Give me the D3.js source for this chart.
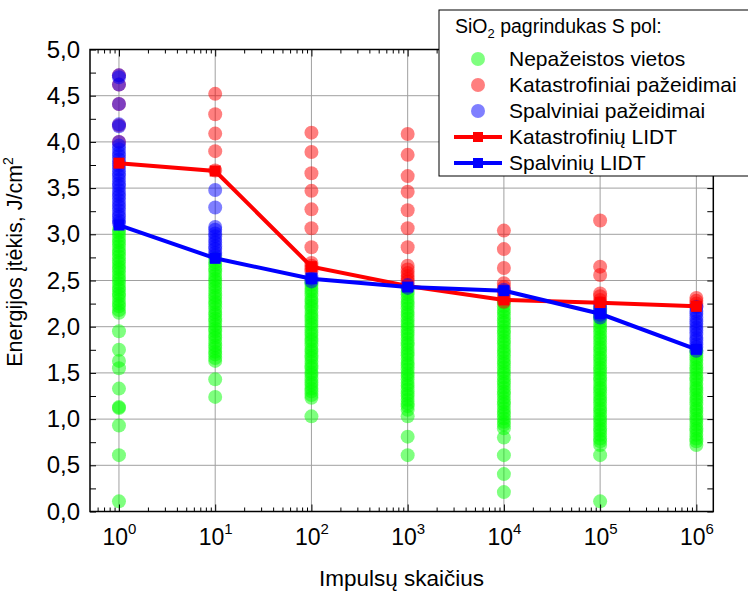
<html>
<script src="https://d3js.org/d3.v7.min.js"></script>
<style>
	body { margin: 0; background: #fff; }
	text { font-family: "Liberation Sans", Arial, sans-serif; }
</style>

<body>
	<svg width=748 height=592></svg>
	<script>
		// pulse counts (x) and LIDT curves
		const pulses = [1, 10, 100, 1000, 10000, 100000, 1000000];
		const lidtKatastrof = [3.77, 3.685, 2.65, 2.44, 2.29, 2.26, 2.22];
		const lidtSpalv = [3.10, 2.74, 2.52, 2.43, 2.39, 2.14, 1.755];

		// measured sites, one list per pulse count
		const nepazeistos = [
			[0.11, 0.61, 0.93, 1.12, 1.13, 1.33, 1.55, 1.63, 1.75, 1.95, 2.15, 2.18, 2.22, 2.25, 2.29, 2.33, 2.36, 2.40, 2.43, 2.47, 2.51, 2.54, 2.58, 2.62, 2.65, 2.69, 2.72, 2.76, 2.80, 2.83, 2.87, 2.91, 2.94, 2.98, 3.02, 3.05],
			[1.24, 1.43, 1.63, 1.66, 1.70, 1.73, 1.77, 1.80, 1.84, 1.88, 1.91, 1.95, 1.98, 2.02, 2.06, 2.09, 2.13, 2.16, 2.20, 2.24, 2.27, 2.31, 2.34, 2.38, 2.42, 2.45, 2.49, 2.52, 2.56, 2.60, 2.63, 2.67, 2.70, 2.74],
			[1.03, 1.23, 1.26, 1.30, 1.33, 1.37, 1.40, 1.44, 1.48, 1.51, 1.55, 1.58, 1.62, 1.66, 1.69, 1.73, 1.76, 1.80, 1.84, 1.87, 1.91, 1.94, 1.98, 2.02, 2.05, 2.09, 2.12, 2.16, 2.20, 2.23, 2.27, 2.30, 2.34, 2.38, 2.41, 2.45, 2.48],
			[0.61, 0.81, 1.03, 1.10, 1.14, 1.17, 1.21, 1.25, 1.28, 1.32, 1.36, 1.39, 1.43, 1.47, 1.50, 1.54, 1.58, 1.61, 1.65, 1.69, 1.72, 1.76, 1.80, 1.83, 1.87, 1.91, 1.94, 1.98, 2.02, 2.05, 2.09, 2.13, 2.16, 2.20, 2.24, 2.27, 2.31, 2.35, 2.38, 2.42],
			[0.21, 0.405, 0.61, 0.80, 0.90, 0.94, 0.97, 1.01, 1.05, 1.08, 1.12, 1.16, 1.19, 1.23, 1.27, 1.30, 1.34, 1.38, 1.41, 1.45, 1.49, 1.52, 1.56, 1.60, 1.63, 1.67, 1.71, 1.74, 1.78, 1.82, 1.85, 1.89, 1.93, 1.96, 2.00, 2.04, 2.07, 2.11, 2.15, 2.18, 2.22, 2.26, 2.29],
			[0.11, 0.61, 0.72, 0.76, 0.79, 0.83, 0.87, 0.90, 0.94, 0.98, 1.01, 1.05, 1.09, 1.12, 1.16, 1.20, 1.23, 1.27, 1.31, 1.34, 1.38, 1.42, 1.45, 1.49, 1.53, 1.56, 1.60, 1.64, 1.67, 1.71, 1.75, 1.78, 1.82, 1.86, 1.89, 1.93, 1.97, 2.00, 2.04, 2.08, 2.11, 2.15, 2.19],
			[0.72, 0.76, 0.79, 0.83, 0.87, 0.90, 0.94, 0.98, 1.01, 1.05, 1.09, 1.12, 1.16, 1.20, 1.23, 1.27, 1.31, 1.34, 1.38, 1.42, 1.45, 1.49, 1.53, 1.56, 1.60, 1.64, 1.67, 1.71, 1.74]
		];
		const katastrofiniai = [
			[4.00, 4.18, 4.41, 4.62, 4.72],
			[3.69, 3.90, 4.09, 4.30, 4.52],
			[2.60, 2.63, 2.66, 2.69, 2.86, 3.065, 3.27, 3.47, 3.66, 3.89, 4.10],
			[2.49, 2.52, 2.55, 2.58, 2.62, 2.66, 2.86, 3.065, 3.26, 3.46, 3.63, 3.86, 4.085],
			[2.27, 2.31, 2.35, 2.39, 2.43, 2.47, 2.635, 2.84, 3.04],
			[2.26, 2.29, 2.33, 2.36, 2.56, 2.65, 3.15],
			[2.22, 2.25, 2.28, 2.31]
		];
		const spalviniai = [
			[3.12, 3.15, 3.19, 3.22, 3.26, 3.30, 3.33, 3.37, 3.41, 3.44, 3.48, 3.52, 3.55, 3.59, 3.63, 3.66, 3.70, 3.74, 3.77, 3.81, 3.85, 3.88, 3.92, 3.96, 4.00, 4.17, 4.19, 4.41, 4.62, 4.70, 4.72],
			[2.77, 2.80, 2.84, 2.87, 2.91, 2.94, 2.98, 3.01, 3.05, 3.08, 3.29, 3.48],
			[2.49, 2.52, 2.55],
			[2.42, 2.45],
			[2.40],
			[2.10, 2.13, 2.17, 2.20, 2.24],
			[1.74, 1.78, 1.81, 1.85, 1.88, 1.92, 1.96, 1.99, 2.03, 2.06, 2.10, 2.14, 2.17, 2.21]
		];
		const yTicks = [0, 0.5, 1, 1.5, 2, 2.5, 3, 3.5, 4, 4.5, 5];

		const svg = d3.select("svg");
		const x = d3.scaleLog().domain([0.5, 1.5e6]).range([90, 713.3]);
		const y = d3.scaleLinear().domain([0, 5]).range([511.5, 49.5]);
		const font = '"Liberation Sans", Arial, sans-serif';

		// grid
		const grid = svg.append("g").attr("stroke", "#a0a0a0").attr("stroke-width", 1);
		grid.selectAll(".gx").data(pulses).join("line")
			.attr("x1", d => x(d)).attr("x2", d => x(d))
			.attr("y1", y(0)).attr("y2", y(5));
		grid.selectAll(".gy").data(yTicks.slice(1, -1)).join("line")
			.attr("x1", x(0.5)).attr("x2", x(1.5e6))
			.attr("y1", d => y(d)).attr("y2", d => y(d));

		// scatter points
		function flat(arr) {
			return arr.flatMap((col, i) => col.map(v => ({ p: pulses[i], v: v })));
		}
		[[nepazeistos, "rgba(0,255,0,0.5)"], [katastrofiniai, "rgba(255,0,0,0.5)"], [spalviniai, "rgba(0,0,255,0.5)"]]
			.forEach(([arr, col]) => {
				svg.append("g").selectAll("circle").data(flat(arr)).join("circle")
					.attr("cx", d => x(d.p)).attr("cy", d => y(d.v)).attr("r", 7)
					.attr("fill", col);
			});

		// LIDT lines
		const line = d3.line().x(d => x(d.p)).y(d => y(d.v));
		[[lidtKatastrof, "#ff0000"], [lidtSpalv, "#0000ff"]].forEach(([vals, col]) => {
			const pts = vals.map((v, i) => ({ p: pulses[i], v: v }));
			svg.append("path").datum(pts).attr("d", line)
				.attr("fill", "none").attr("stroke", col).attr("stroke-width", 4);
			svg.append("g").selectAll("rect").data(pts).join("rect")
				.attr("x", d => x(d.p) - 5.5).attr("y", d => y(d.v) - 5.5)
				.attr("width", 11).attr("height", 11).attr("fill", col);
		});

		// axes
		const yMinor = d3.range(0, 5.001, 0.25);
		const fmt = d => (Math.abs(d * 2 - Math.round(d * 2)) < 1e-9) ? d.toFixed(1).replace(".", ",") : "";
		const xMinor = d3.range(-1, 7).flatMap(e => d3.range(2, 10).map(k => k * Math.pow(10, e)))
			.filter(v => v > 0.5 && v < 1.5e6);

		svg.append("g").attr("transform", "translate(90,0)")
			.call(d3.axisLeft(y).tickValues(yMinor).tickSizeInner(-6).tickSizeOuter(0).tickPadding(10).tickFormat(fmt))
			.call(g => g.select(".domain").remove())
			.attr("font-size", 24).attr("font-family", font);
		svg.append("g").attr("transform", "translate(713.3,0)")
			.call(d3.axisRight(y).tickValues(yMinor).tickSizeInner(-6).tickSizeOuter(0).tickFormat(""))
			.call(g => g.select(".domain").remove());

		svg.append("g").attr("transform", "translate(0,511.5)")
			.call(d3.axisBottom(x).tickValues(xMinor).tickSizeInner(-4).tickSizeOuter(0).tickFormat(""))
			.call(g => g.select(".domain").remove());
		svg.append("g").attr("transform", "translate(0,49.5)")
			.call(d3.axisTop(x).tickValues(xMinor).tickSizeInner(-4).tickSizeOuter(0).tickFormat(""))
			.call(g => g.select(".domain").remove());
		svg.append("g").attr("transform", "translate(0,49.5)")
			.call(d3.axisTop(x).tickValues(pulses).tickSizeInner(-7).tickSizeOuter(0).tickFormat(""))
			.call(g => g.select(".domain").remove());
		svg.append("g").attr("transform", "translate(0,511.5)")
			.call(d3.axisBottom(x).tickValues(pulses).tickSizeInner(-7).tickSizeOuter(0))
			.call(g => g.select(".domain").remove())
			.attr("font-size", 23).attr("font-family", font)
			.selectAll(".tick text").each(function (d) {
				const t = d3.select(this).text("10").attr("y", 33.5).attr("dy", 0);
				t.append("tspan").attr("dy", -11).attr("font-size", 15).text(Math.round(Math.log10(d)));
			});

		// frame
		svg.append("rect").attr("x", 90).attr("y", 49.5)
			.attr("width", 713.3 - 90).attr("height", 511.5 - 49.5)
			.attr("fill", "none").attr("stroke", "black").attr("stroke-width", 1.5);

		// axis titles
		svg.append("text").attr("x", 401.6).attr("y", 586).attr("text-anchor", "middle")
			.attr("font-size", 22.5).text("Impulsų skaičius");
		const yt = svg.append("text").attr("transform", "translate(22,262) rotate(-90)")
			.attr("text-anchor", "middle").attr("font-size", 21.5).text("Energijos įtėkis, J/cm");
		yt.append("tspan").attr("dy", -9).attr("font-size", 14).text("2");

		// legend
		const leg = svg.append("g");
		leg.append("rect").attr("x", 439).attr("y", 10).attr("width", 330).attr("height", 166)
			.attr("fill", "white").attr("stroke", "black").attr("stroke-width", 1);
		const lt = leg.append("text").attr("x", 455).attr("y", 33).attr("font-size", 19.5).text("SiO");
		lt.append("tspan").attr("dy", 5).attr("font-size", 13).text("2");
		lt.append("tspan").attr("dy", -5).text(" pagrindukas S pol:");

		const legItems = [
			{ name: "Nepažeistos vietos", type: "dot", col: "rgba(0,255,0,0.5)" },
			{ name: "Katastrofiniai pažeidimai", type: "dot", col: "rgba(255,0,0,0.5)" },
			{ name: "Spalviniai pažeidimai", type: "dot", col: "rgba(0,0,255,0.5)" },
			{ name: "Katastrofinių LIDT", type: "line", col: "#ff0000" },
			{ name: "Spalvinių LIDT", type: "line", col: "#0000ff" }
		];
		legItems.forEach((it, i) => {
			const cy = 59 + i * 26;
			if (it.type === "dot") {
				leg.append("circle").attr("cx", 478).attr("cy", cy).attr("r", 7).attr("fill", it.col);
			} else {
				leg.append("line").attr("x1", 454).attr("x2", 502).attr("y1", cy).attr("y2", cy)
					.attr("stroke", it.col).attr("stroke-width", 4);
				leg.append("rect").attr("x", 473).attr("y", cy - 5).attr("width", 10).attr("height", 10).attr("fill", it.col);
			}
			leg.append("text").attr("x", 509).attr("y", cy + 7).attr("font-size", 21).text(it.name);
		});
	</script>
</body>

</html>
